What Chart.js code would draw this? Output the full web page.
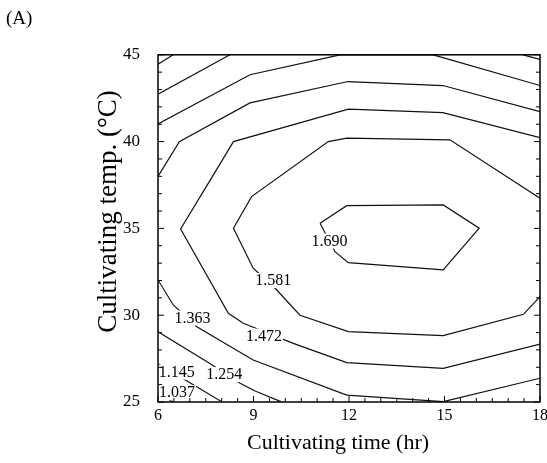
<!DOCTYPE html>
<html>
<head>
<meta charset="utf-8">
<script src="https://cdn.jsdelivr.net/npm/chart.js@4.4.1/dist/chart.umd.min.js"></script>
<style>
  html, body { margin: 0; padding: 0; background: #fff; }
</style>
</head>
<body>
<canvas id="contour" width="547" height="463"></canvas>
<script>
// === DATA: contour polylines, [time (hr), temp (°C)] ===
const cornerTopLeft  = [[6, 44.46], [6.48, 45]];
const cornerTopRight = [[17.47, 45], [18, 44.73]];
const upper2 = [[6, 42.73], [8.26, 45]];
const upper3 = [[6, 41.02], [8.89, 43.85], [11.72, 45], [14.64, 45], [14.95, 44.84], [18, 43.23]];
const upper4 = [[6, 37.99], [6.67, 40.0], [8.89, 42.23], [11.97, 43.46], [14.95, 43.23], [18, 41.73]];
const level1472 = [[18, 40.23], [14.95, 41.67], [11.98, 41.87], [8.37, 40.0], [7.74, 38.08], [6.71, 34.97],
                   [8.21, 30.11], [8.68, 29.54], [10.25, 28.38], [11.93, 27.27], [14.96, 26.94], [18, 28.34]];
const level1581 = [[18, 36.74], [15.17, 40.1], [11.93, 40.2], [11.35, 40.0], [8.94, 36.83], [8.37, 35.01],
                   [8.99, 32.71], [9.68, 31.55], [10.46, 30.0], [11.98, 29.05], [14.96, 28.82], [17.48, 30.05], [18, 31.07]];
const level1690 = [[11.09, 35.3], [11.93, 36.31], [14.96, 36.35], [16.09, 35.01], [14.96, 32.61],
                   [11.98, 33.03], [11.56, 33.66], [11.09, 35.3]];
const level1363 = [[6, 32.03], [6.48, 30.59], [7.22, 29.34], [8.99, 27.42], [11.93, 25.4], [14.96, 25.02], [18, 26.37]];
const level1254 = [[6, 29.05], [7.58, 27.27], [8.58, 26.08], [9.05, 25.63], [9.86, 25.02]];
const level1145 = [[6, 27.2], [6.95, 26.17], [8.0, 25.02]];
const level1037 = [[6, 25.5], [6.48, 25.0]];

// inline contour labels
const labelText = ['1.690', '1.581', '1.472', '1.363', '1.254', '1.145', '1.037'];
const labelX    = [11.39, 9.62, 9.33, 7.08, 8.08, 6.59, 6.60];
const labelY    = [34.30, 32.03, 28.83, 29.87, 26.61, 26.75, 25.56];

// axes
const xRange = [6, 18], xStep = 3, xMinorStep = 0.5;
const yRange = [25, 45], yStep = 5, yMinorStep = 1;

const contours = [cornerTopLeft, cornerTopRight, upper2, upper3, upper4,
                  level1472, level1581, level1690, level1363, level1254, level1145, level1037];

const FONT = '"Liberation Serif", "DejaVu Serif", serif';

const datasets = contours.map(pts => ({
    data: pts.map(p => ({ x: p[0], y: p[1] })),
    showLine: true,
    borderColor: '#111',
    borderWidth: 1.2,
    pointRadius: 0,
    tension: 0
}));

// === PLUGINS ===
const contourLabels = {
    id: 'contourLabels',
    afterDatasetsDraw(chart) {
        const { ctx, scales: { x, y } } = chart;
        ctx.save();
        ctx.font = '16px ' + FONT;
        ctx.textAlign = 'center';
        ctx.textBaseline = 'middle';
        labelText.forEach((t, i) => {
            const px = x.getPixelForValue(labelX[i]);
            const py = y.getPixelForValue(labelY[i]);
            const w = ctx.measureText(t).width;
            ctx.fillStyle = '#fff';
            ctx.fillRect(px - w / 2 - 1, py - 7, w + 2, 15);
            ctx.fillStyle = '#000';
            ctx.fillText(t, px, py + 1);
        });
        ctx.restore();
    }
};

const frameTicks = {
    id: 'frameTicks',
    afterDraw(chart) {
        const { ctx, chartArea: a, scales: { x, y } } = chart;
        ctx.save();
        ctx.strokeStyle = '#000';
        ctx.lineWidth = 1.5;
        ctx.strokeRect(a.left, a.top, a.right - a.left, a.bottom - a.top);
        ctx.lineWidth = 1;
        ctx.beginPath();
        for (let v = xRange[0]; v <= xRange[1]; v += xMinorStep) {
            const px = x.getPixelForValue(v);
            const len = v % xStep === 0 ? 6 : 4;
            ctx.moveTo(px, a.bottom);
            ctx.lineTo(px, a.bottom - len);
        }
        for (let v = yRange[0]; v <= yRange[1]; v += yMinorStep) {
            const py = y.getPixelForValue(v);
            const len = v % yStep === 0 ? 6 : 4;
            ctx.moveTo(a.left, py);
            ctx.lineTo(a.left + len, py);
            ctx.moveTo(a.right, py);
            ctx.lineTo(a.right - len, py);
        }
        ctx.stroke();
        ctx.restore();
    }
};

// === CHART ===
new Chart(document.getElementById('contour'), {
    type: 'scatter',
    data: { datasets },
    options: {
        responsive: false,
        animation: false,
        layout: { padding: { left: 6, right: 0, top: 8, bottom: 7 } },
        plugins: {
            legend: { display: false },
            tooltip: { enabled: false },
            title: {
                display: true, text: '(A)', align: 'start', color: '#000',
                font: { family: FONT, size: 19, weight: 'normal' },
                padding: { top: 0, bottom: 24 }
            }
        },
        scales: {
            x: {
                type: 'linear', min: xRange[0], max: xRange[1],
                grid: { display: false, drawTicks: false },
                border: { display: false },
                ticks: { stepSize: xStep, color: '#000', padding: 4, font: { family: FONT, size: 16 } },
                title: {
                    display: true, text: 'Cultivating time (hr)    ', color: '#000',
                    font: { family: FONT, size: 22 }, padding: { top: 4, bottom: 0 }
                },
                afterFit(scale) {
                    scale.height = 54;
                    scale.paddingRight = 7;
                }
            },
            y: {
                type: 'linear', min: yRange[0], max: yRange[1],
                grid: { display: false, drawTicks: false },
                border: { display: false },
                ticks: { stepSize: yStep, color: '#000', padding: 18, font: { family: FONT, size: 17 } },
                title: {
                    display: true, text: '     Cultivating temp. (°C)', color: '#000',
                    font: { family: FONT, size: 27, lineHeight: 1 }, padding: { top: 89, bottom: 0 }
                },
                afterFit(scale) {
                    scale.width = 152;
                }
            }
        }
    },
    plugins: [contourLabels, frameTicks]
});
</script>
</body>
</html>
